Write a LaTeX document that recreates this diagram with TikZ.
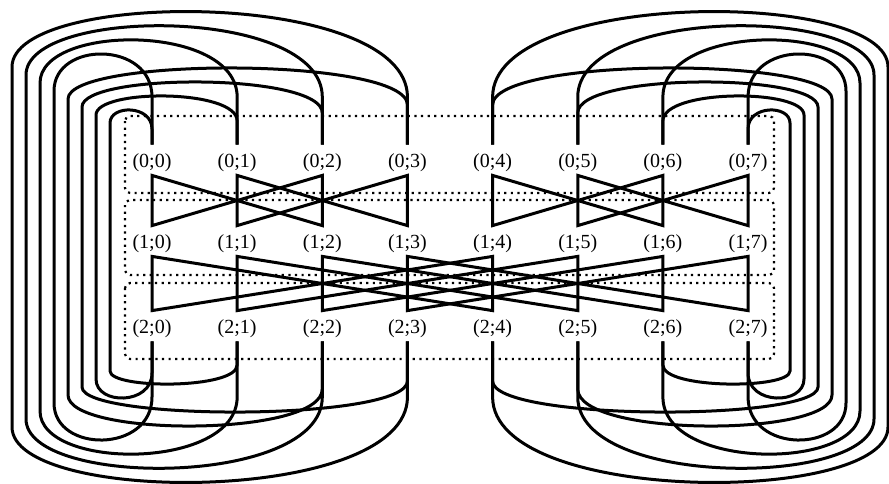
\documentclass[tikz,border=0pt]{standalone}
\usepackage{fontspec}
\setmainfont{Liberation Serif}
\tikzset{
  link/.style={line width=1.5pt},
  rowbox/.style={line width=1.1pt, dash pattern=on 1.1pt off 2.2pt, rounded corners=2.5pt},
  lbl/.style={inner sep=0pt, text height=11pt, text depth=4pt, font=\fontsize{10}{12}\selectfont}
}
\begin{document}
\begin{tikzpicture}[x=0.5pt,y=-0.5pt]
  \useasboundingbox (0,0) rectangle (889,483);

  % Row boxes
  \draw[rowbox] (125,116) rectangle (774,193);
  \draw[rowbox] (125,200) rectangle (774,275);
  \draw[rowbox] (125,283) rectangle (774,359);

  % Nodes
  \foreach \r/\ry in {0/160,1/241,2/326}
    \foreach \c in {0,...,7}
      \node[lbl] (n\r\c) at ({152+85.15*\c},\ry) {(\r;\c)};

  % Stage 0 -> 1
  \foreach \i/\j in {0/2,1/3,4/6,5/7}
    \draw[link] (n0\i.south) -- (n1\i.north) -- (n0\j.south) -- (n1\j.north) -- cycle;

  % Stage 1 -> 2
  \foreach \i/\j in {0/4,1/5,2/6,3/7}
    \draw[link] (n1\i.south) -- (n2\i.north) -- (n1\j.south) -- (n2\j.north) -- cycle;

  % Wrap-around links, row 2 back to row 0
  \foreach \k/\tc/\bc in {0/3/3,1/2/2,2/1/1,3/0/0,4/3/2,5/2/3,6/1/0,7/0/1}
    \foreach \side in {0,1} {
      \pgfmathsetmacro\xk{\side==0 ? 12+14*\k : 888-14*\k}
      \pgfmathtruncatemacro\tcol{\side==0 ? \tc : 7-\tc}
      \pgfmathtruncatemacro\bcol{\side==0 ? \bc : 7-\bc}
      \pgfmathsetmacro\pk{12+14*\k}
      \pgfmathsetmacro\ylt{67+8*\k}
      \pgfmathsetmacro\yrt{\k<4 ? 97 : 105+8*(\k-4)}
      \pgfmathsetmacro\ct{(\pk-0.125*(\ylt+\yrt))/0.75}
      \pgfmathsetmacro\ylb{494-\ylt}
      \pgfmathsetmacro\yrb{494-\yrt}
      \pgfmathsetmacro\cb{494-\ct}
      \draw[link] (n2\bcol.south) -- (n2\bcol.south |- 0,\yrb)
        .. controls (n2\bcol.south |- 0,\cb) and (\xk,\cb) .. (\xk,\ylb)
        -- (\xk,\ylt)
        .. controls (\xk,\ct) and (n0\tcol.north |- 0,\ct) .. (n0\tcol.north |- 0,\yrt)
        -- (n0\tcol.north);
    }
\end{tikzpicture}
\end{document}
